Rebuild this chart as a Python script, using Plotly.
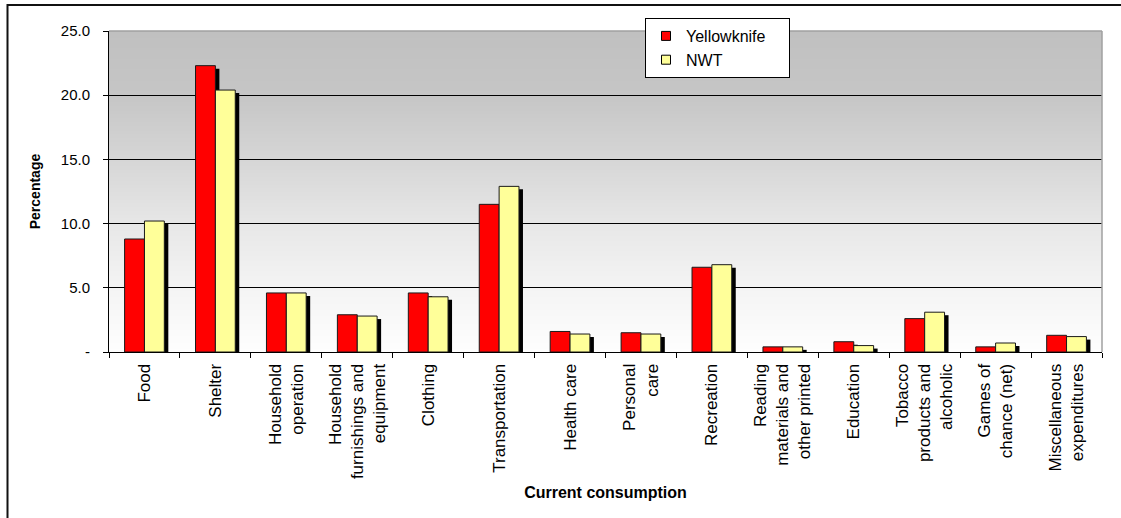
import base64
import struct
import zlib

import plotly.graph_objects as go

# Spending shares (%) by consumption category
categories = [
    "Food",
    "Shelter",
    "Household<br>operation",
    "Household<br>furnishings and<br>equipment",
    "Clothing",
    "Transportation",
    "Health care",
    "Personal<br>care",
    "Recreation",
    "Reading<br>materials and<br>other printed",
    "Education",
    "Tobacco<br>products and<br>alcoholic",
    "Games of<br>chance (net)",
    "Miscellaneous<br>expenditures",
]
yellowknife = [8.8, 22.3, 4.6, 2.9, 4.6, 11.5, 1.6, 1.5, 6.6, 0.4, 0.8, 2.6, 0.4, 1.3]
nwt = [10.2, 20.4, 4.6, 2.8, 4.3, 12.9, 1.4, 1.4, 6.8, 0.4, 0.5, 3.1, 0.7, 1.2]

y_ticks = [0, 5, 10, 15, 20, 25]
y_tick_text = ["-", "5.0", "10.0", "15.0", "20.0", "25.0"]

# Figure geometry (pixels)
W, H = 1121, 518
ML, MR, MT, MB = 109, 19, 31, 166
PW, PH = W - ML - MR, H - MT - MB

BAR_W = 0.28            # bar width in category units
SHADOW_DX = 4 / (PW / len(categories))   # 4 px to the right
SHADOW_DY = 3 / (PH / 25.0)              # 3 px lower


def gradient_png(stops, height=256):
    """Build a 1-px-wide grayscale PNG fading through the given (pos, value) stops (pos 0 = top)."""
    rows = b""
    for i in range(height):
        t = i / (height - 1)
        for (p0, v0), (p1, v1) in zip(stops[:-1], stops[1:]):
            if p0 <= t <= p1:
                f = (t - p0) / (p1 - p0) if p1 > p0 else 0
                val = int(round(v0 + (v1 - v0) * f))
                break
        rows += b"\x00" + bytes([val])

    def chunk(tag, data):
        c = struct.pack(">I", len(data)) + tag + data
        return c + struct.pack(">I", zlib.crc32(tag + data) & 0xFFFFFFFF)

    png = b"\x89PNG\r\n\x1a\n"
    png += chunk(b"IHDR", struct.pack(">IIBBBBB", 1, height, 8, 0, 0, 0, 0))
    png += chunk(b"IDAT", zlib.compress(rows))
    png += chunk(b"IEND", b"")
    return "data:image/png;base64," + base64.b64encode(png).decode()


bg_src = gradient_png([(0.0, 192), (0.2, 198), (0.4, 214), (0.6, 231), (0.8, 244), (1.0, 254)])

fig = go.Figure()

# drop shadows behind each bar
for vals, off in [(yellowknife, -BAR_W), (nwt, 0.0)]:
    fig.add_trace(go.Bar(
        x=categories, y=[v - SHADOW_DY for v in vals],
        width=BAR_W, offset=off + SHADOW_DX,
        marker=dict(color="#000000", line=dict(width=0)),
        showlegend=False, hoverinfo="skip",
    ))

fig.add_trace(go.Bar(
    x=categories, y=yellowknife, name="Yellowknife",
    width=BAR_W, offset=-BAR_W,
    marker=dict(color="#ff0000", line=dict(color="#1a1a1a", width=1)),
    showlegend=False,
))
fig.add_trace(go.Bar(
    x=categories, y=nwt, name="NWT",
    width=BAR_W, offset=0.0,
    marker=dict(color="#ffff99", line=dict(color="#1a1a1a", width=1)),
    showlegend=False,
))

# legend entries with small square swatches
for name, color, grp in [("Yellowknife\u00a0\u00a0\u00a0\u00a0", "#ff0000", "a"), ("NWT", "#ffff99", "b")]:
    fig.add_trace(go.Scatter(
        x=[None], y=[None], mode="markers", name=name, legendgroup=grp,
        marker=dict(symbol="square", size=9, color=color, line=dict(color="#000000", width=1)),
    ))


def px_x(p):
    return (p - ML) / PW


def px_y(p):
    return (H - MB - p) / PH


shapes = [
    # plot-area frame on top and right
    dict(type="line", xref="paper", yref="paper", x0=0, x1=1, y0=1, y1=1,
         line=dict(color="#a0a0a0", width=1.5), layer="above"),
    dict(type="line", xref="paper", yref="paper", x0=1, x1=1, y0=0, y1=1,
         line=dict(color="#a0a0a0", width=1.5), layer="above"),
    # chart border
    dict(type="rect", xref="paper", yref="paper",
         x0=px_x(7.5), x1=px_x(W + 10), y0=px_y(H + 10), y1=px_y(5),
         line=dict(color="#111111", width=2), fillcolor="rgba(0,0,0,0)", layer="above"),
]

fig.update_layout(
    width=W, height=H, autosize=False,
    margin=dict(l=ML, r=MR, t=MT, b=MB, pad=0),
    paper_bgcolor="#ffffff",
    plot_bgcolor="rgba(0,0,0,0)",
    barmode="overlay",
    font=dict(family="Liberation Sans, Arial, sans-serif", color="#000000", size=15),
    images=[dict(source=bg_src, xref="paper", yref="paper", x=0, y=1,
                 sizex=1, sizey=1, sizing="stretch", xanchor="left", yanchor="top",
                 layer="below")],
    shapes=shapes,
    legend=dict(
        x=px_x(645), y=px_y(18), xanchor="left", yanchor="top",
        bgcolor="#ffffff", bordercolor="#000000", borderwidth=1,
        font=dict(size=16), traceorder="grouped", tracegroupgap=0,
    ),
    xaxis=dict(
        type="category", range=[-0.5, len(categories) - 0.5],
        showline=True, linecolor="#000000", linewidth=1,
        ticks="outside", tickson="boundaries", ticklen=5, tickcolor="#000000",
        tickangle=-90, tickfont=dict(size=17), ticklabelstandoff=4,
        showgrid=False, zeroline=False,
        title=dict(text="<b>Current consumption</b>", font=dict(size=16), standoff=8),
    ),
    yaxis=dict(
        range=[0, 25], tickvals=y_ticks, ticktext=y_tick_text,
        showline=True, linecolor="#000000", linewidth=1,
        ticks="outside", ticklen=5, tickcolor="#000000",
        tickfont=dict(size=15), ticklabelstandoff=10,
        showgrid=True, gridcolor="#000000", gridwidth=1,
        zeroline=False,
        title=dict(text="<b>Percentage</b>", font=dict(size=14), standoff=16),
    ),
)

fig.write_html("out.html")
